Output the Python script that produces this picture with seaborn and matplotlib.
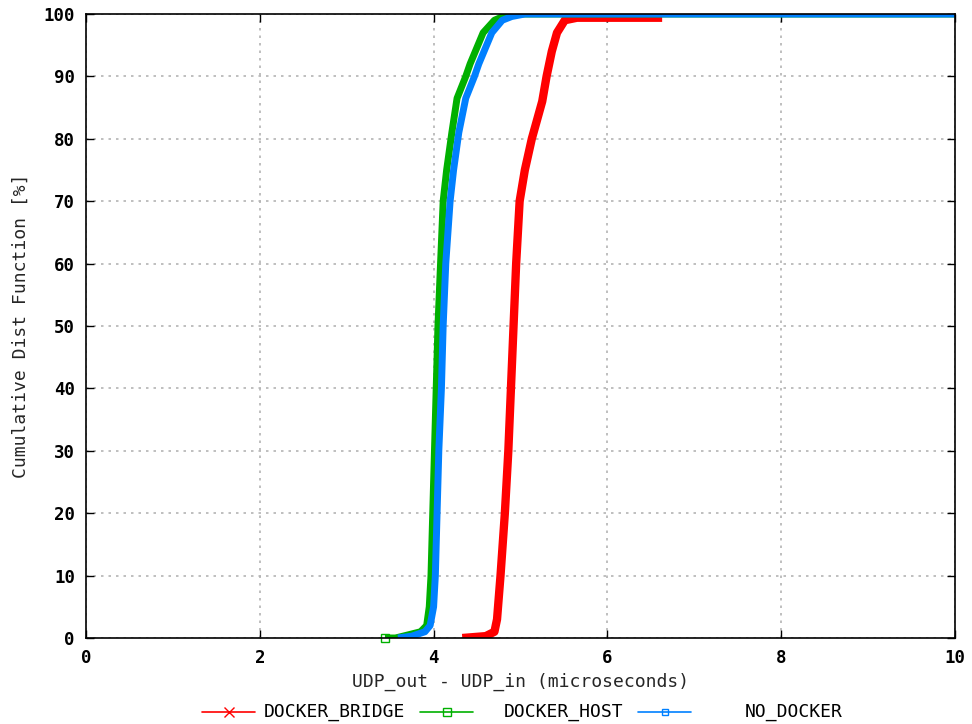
import matplotlib
matplotlib.use("Agg")
import matplotlib.pyplot as plt
from matplotlib.lines import Line2D
import numpy as np
import pandas as pd
import seaborn as sns

# Empirical CDF of UDP forwarding latency (UDP_out - UDP_in), microseconds vs. percent
bridge_pct = [0, 0.3, 1, 3, 10, 20, 30, 40, 50, 60, 70, 75, 80, 83, 86, 90, 94, 97, 99, 99.4, 99.4]
bridge_us = [4.33, 4.60, 4.70, 4.73, 4.77, 4.82, 4.86, 4.89, 4.92, 4.95, 4.99, 5.05, 5.13,
             5.19, 5.25, 5.30, 5.36, 5.42, 5.51, 5.65, 6.63]

host_pct = [0, 0, 0.2, 1, 2, 5, 10, 20, 30, 40, 50, 60, 70, 75, 81, 86.5, 90, 92, 95, 97, 99, 99.6, 100, 100]
host_us = [3.44, 3.56, 3.62, 3.85, 3.92, 3.95, 3.97, 3.99, 4.01, 4.03, 4.05, 4.08, 4.11,
           4.15, 4.21, 4.27, 4.37, 4.42, 4.51, 4.57, 4.70, 4.80, 4.92, 10.0]

nodocker_pct = [0, 0.3, 1, 2, 5, 10, 20, 30, 40, 50, 60, 70, 75, 81, 86.5, 90, 92, 95, 97, 99, 99.6, 100, 100]
nodocker_us = [3.59, 3.75, 3.90, 3.96, 4.00, 4.02, 4.04, 4.06, 4.09, 4.11, 4.14, 4.19,
               4.23, 4.29, 4.37, 4.47, 4.52, 4.61, 4.67, 4.79, 4.90, 5.05, 10.0]

series_names = ["DOCKER_BRIDGE", "DOCKER_HOST", "NO_DOCKER"]
series_colors = ["#ff0000", "#00b000", "#0080ff"]

x_ticks = [0, 2, 4, 6, 8, 10]
y_ticks = [0, 10, 20, 30, 40, 50, 60, 70, 80, 90, 100]

df = pd.concat([
    pd.DataFrame({"latency": bridge_us, "cdf": bridge_pct, "series": series_names[0]}),
    pd.DataFrame({"latency": host_us, "cdf": host_pct, "series": series_names[1]}),
    pd.DataFrame({"latency": nodocker_us, "cdf": nodocker_pct, "series": series_names[2]}),
], ignore_index=True)

sns.set_theme(style="white")
plt.rcParams["font.family"] = ["DejaVu Sans Mono"]

W, H = 972, 724
fig = plt.figure(figsize=(W / 100, H / 100), dpi=100)
ax = fig.add_axes([86 / W, 1 - 638 / H, (955 - 86) / W, (638 - 14) / H])

band_widths = [6.0, 5.0, 5.0]
for name, color, lw in zip(series_names, series_colors, band_widths):
    sub = df[df["series"] == name]
    sns.lineplot(data=sub, x="latency", y="cdf", sort=False, estimator=None,
                 color=color, linewidth=lw, ax=ax, legend=False,
                 solid_joinstyle="round", solid_capstyle="butt", zorder=3)

# lone first sample of the host series
ax.plot(host_us[0], host_pct[0], marker="s", ms=6, mfc="none", mec=series_colors[1],
        mew=1.0, zorder=4, clip_on=False)

ax.set_xlim(0, 10)
ax.set_ylim(0, 100)
ax.set_xticks(x_ticks)
ax.set_yticks(y_ticks)
ax.set_xticklabels([str(t) for t in x_ticks], fontsize=12.5, fontweight="bold")
ax.set_yticklabels([str(t) for t in y_ticks], fontsize=12.5, fontweight="bold")
ax.tick_params(direction="in", length=6, width=1, colors="black",
               top=True, right=True, bottom=True, left=True, pad=8)
ax.grid(True, color="#b4b4b4", linestyle=(0, (1.5, 3)), linewidth=1.2)
for s in ax.spines.values():
    s.set_color("black")
    s.set_linewidth(1.2)
    s.set_zorder(5)

ax.set_xlabel("UDP_out - UDP_in (microseconds)", fontsize=13, labelpad=4)
ax.set_ylabel("Cumulative Dist Function [%]", fontsize=13, labelpad=10)

# key row under the axes
markers = [dict(marker="x", ms=7, mew=1.0), dict(marker="s", ms=6, mfc="none", mew=1.0),
           dict(marker="s", ms=4, mfc="none", mew=1.0)]
sample_x0 = [202, 420, 638]
text_x0 = [264, 504, 745]
key_y = 1 - 712 / H
for name, color, mk, sx, tx in zip(series_names, series_colors, markers, sample_x0, text_x0):
    fig.add_artist(Line2D([sx / W, (sx + 53) / W], [key_y, key_y], color=color, lw=1.2,
                          transform=fig.transFigure))
    fig.add_artist(Line2D([(sx + 26.5) / W], [key_y], color=color, mec=color,
                          linestyle="none", transform=fig.transFigure, **mk))
    fig.text(tx / W, key_y, name, fontsize=13, va="center", ha="left", color="black")

fig.savefig("out.png", dpi=100)
